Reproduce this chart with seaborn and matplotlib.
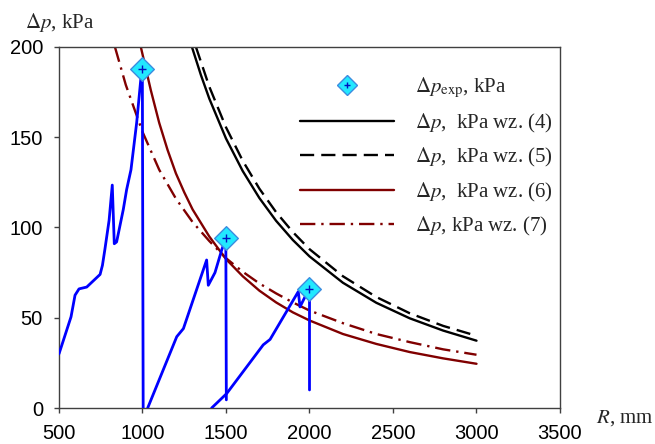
import numpy as np
import pandas as pd
import matplotlib
matplotlib.use("Agg")
import matplotlib.pyplot as plt
from matplotlib.lines import Line2D
import seaborn as sns

# ---------------- data ----------------
R_exp = [1000, 1500, 2000]
dp_exp = [188, 94, 66]

# measured pressure traces (three runs)
trace1_R = [500, 572, 596, 620, 666, 746, 760, 775, 800, 819, 831, 845, 885, 905, 931, 965, 999, 1004]
trace1_p = [30, 50.5, 62.5, 66, 67, 74, 79, 88, 104, 123.5, 91, 92, 110, 121, 132, 158, 191, 0]
trace2_R = [1031, 1205, 1245, 1384, 1394, 1434, 1474, 1499, 1502]
trace2_p = [0, 39.5, 44, 82, 68, 75, 87.5, 94, 4.5]
trace3_R = [1414, 1504, 1723, 1764, 1933, 1943, 1997, 2000, 2000]
trace3_p = [0, 8, 35, 38, 64.5, 56, 66, 66, 10]

# model curves
eq4_R = [1296, 1350, 1400, 1500, 1600, 1700, 1800, 1900, 2000, 2200, 2400, 2600, 2800, 3000]
eq4_p = [200, 184.4, 171.4, 149.3, 131.3, 116.3, 103.7, 93.1, 84.0, 69.4, 58.3, 49.7, 42.9, 37.3]
eq5_R = [1320, 1400, 1500, 1600, 1700, 1800, 1900, 2000, 2200, 2400, 2600, 2800, 3000]
eq5_p = [200, 178, 155.5, 137, 121.5, 108.5, 97.5, 88, 73, 61.5, 52.5, 45.5, 40]
eq6_R = [990, 1050, 1100, 1150, 1200, 1250, 1300, 1400, 1500, 1600, 1700, 1800, 1900, 2000, 2200, 2400, 2600, 2800, 3000]
eq6_p = [200, 176, 158, 143, 130, 119.5, 110, 95, 82.5, 73, 65, 58.5, 53, 48.5, 41, 35.5, 31, 27.5, 24.5]
eq7_R = [835, 900, 1000, 1100, 1200, 1300, 1400, 1500, 1600, 1700, 1800, 1900, 2000, 2200, 2400, 2600, 2800, 3000]
eq7_p = [200, 179, 153, 132, 116, 103, 92.5, 83, 75.5, 69, 63.5, 58.5, 54, 47, 41, 36.5, 32.5, 29.5]

x_ticks = [500, 1000, 1500, 2000, 2500, 3000, 3500]
y_ticks = [0, 50, 100, 150, 200]

labels = [r"$\Delta p_{\mathrm{exp}}$, kPa",
          r"$\Delta p$,  kPa wz. (4)",
          r"$\Delta p$,  kPa wz. (5)",
          r"$\Delta p$,  kPa wz. (6)",
          r"$\Delta p$, kPa wz. (7)"]

# ---------------- style ----------------
sns.set_theme(style="ticks")
plt.rcParams["font.family"] = ["Liberation Sans", "DejaVu Sans"]
plt.rcParams["mathtext.fontset"] = "stix"

W, H = 655, 444
fig = plt.figure(figsize=(W / 100, H / 100), dpi=100)
ax = fig.add_axes([59 / W, (H - 408) / H, (560 - 59) / W, (408 - 47) / H])

blue = "#0000FF"
maroon = "#800000"

for tr_R, tr_p in [(trace1_R, trace1_p), (trace2_R, trace2_p), (trace3_R, trace3_p)]:
    df = pd.DataFrame({"R": tr_R, "p": tr_p})
    sns.lineplot(data=df, x="R", y="p", sort=False, estimator=None, color=blue,
                 lw=2.0, ax=ax, zorder=3)

curve_style = [
    (eq4_R, eq4_p, "black", "-"),
    (eq5_R, eq5_p, "black", (0, (6, 3))),
    (eq6_R, eq6_p, maroon, "-"),
    (eq7_R, eq7_p, maroon, (0, (6.5, 2.5, 1, 2.5))),
]
for cR, cp, col, ls in curve_style:
    df = pd.DataFrame({"R": cR, "p": cp})
    sns.lineplot(data=df, x="R", y="p", color=col, lw=1.7, linestyle=ls, ax=ax,
                 estimator=None, sort=False, zorder=2)

df_exp = pd.DataFrame({"R": R_exp, "p": dp_exp})
sns.scatterplot(data=df_exp, x="R", y="p", marker="D", s=145, color="#22E8FF",
                edgecolor="#3C8CE0", linewidth=1.0, ax=ax, zorder=5)
sns.scatterplot(data=df_exp, x="R", y="p", marker="+", s=30, color="#0010C0",
                linewidth=1.0, ax=ax, zorder=6)

ax.set_xlim(500, 3500)
ax.set_ylim(0, 200)
ax.set_xticks(x_ticks)
ax.set_yticks(y_ticks)
ax.set_xlabel("")
ax.set_ylabel("")
for s in ["top", "right", "left", "bottom"]:
    ax.spines[s].set_visible(True)
    ax.spines[s].set_color("#404040")
    ax.spines[s].set_linewidth(1.0)
ax.tick_params(axis="both", direction="out", length=3.6, width=1.0, color="#404040",
               labelsize=14.5, labelcolor="black")
ax.tick_params(axis="x", pad=8)
ax.tick_params(axis="y", pad=8)

# legend
h_exp = (Line2D([], [], marker="D", ls="none", ms=10, mfc="#22E8FF", mec="#3C8CE0", mew=1.0),
         Line2D([], [], marker="+", ls="none", ms=5, mec="#0010C0", mew=1.0))
handles = [h_exp,
           Line2D([], [], color="black", lw=1.7, ls="-"),
           Line2D([], [], color="black", lw=1.7, ls=(0, (6, 3))),
           Line2D([], [], color=maroon, lw=1.7, ls="-"),
           Line2D([], [], color=maroon, lw=1.7, ls=(0, (6.5, 2.5, 1, 2.5)))]
leg = ax.legend(handles, labels, loc="upper left", bbox_to_anchor=(300 / W, 1 - 76 / H),
                bbox_transform=fig.transFigure, frameon=False, borderpad=0,
                borderaxespad=0, handlelength=4.5, handletextpad=1.0, labelspacing=0.55,
                prop={"family": "Liberation Serif", "size": 15})

fig.text(25 / W, 1 - 22 / H, r"$\Delta p$, kPa", family="Liberation Serif", fontsize=15,
         ha="left", va="center")
fig.text(596 / W, 1 - 418 / H, r"$R$, mm", family="Liberation Serif", fontsize=15,
         ha="left", va="center")

fig.savefig("out.png", dpi=100)
